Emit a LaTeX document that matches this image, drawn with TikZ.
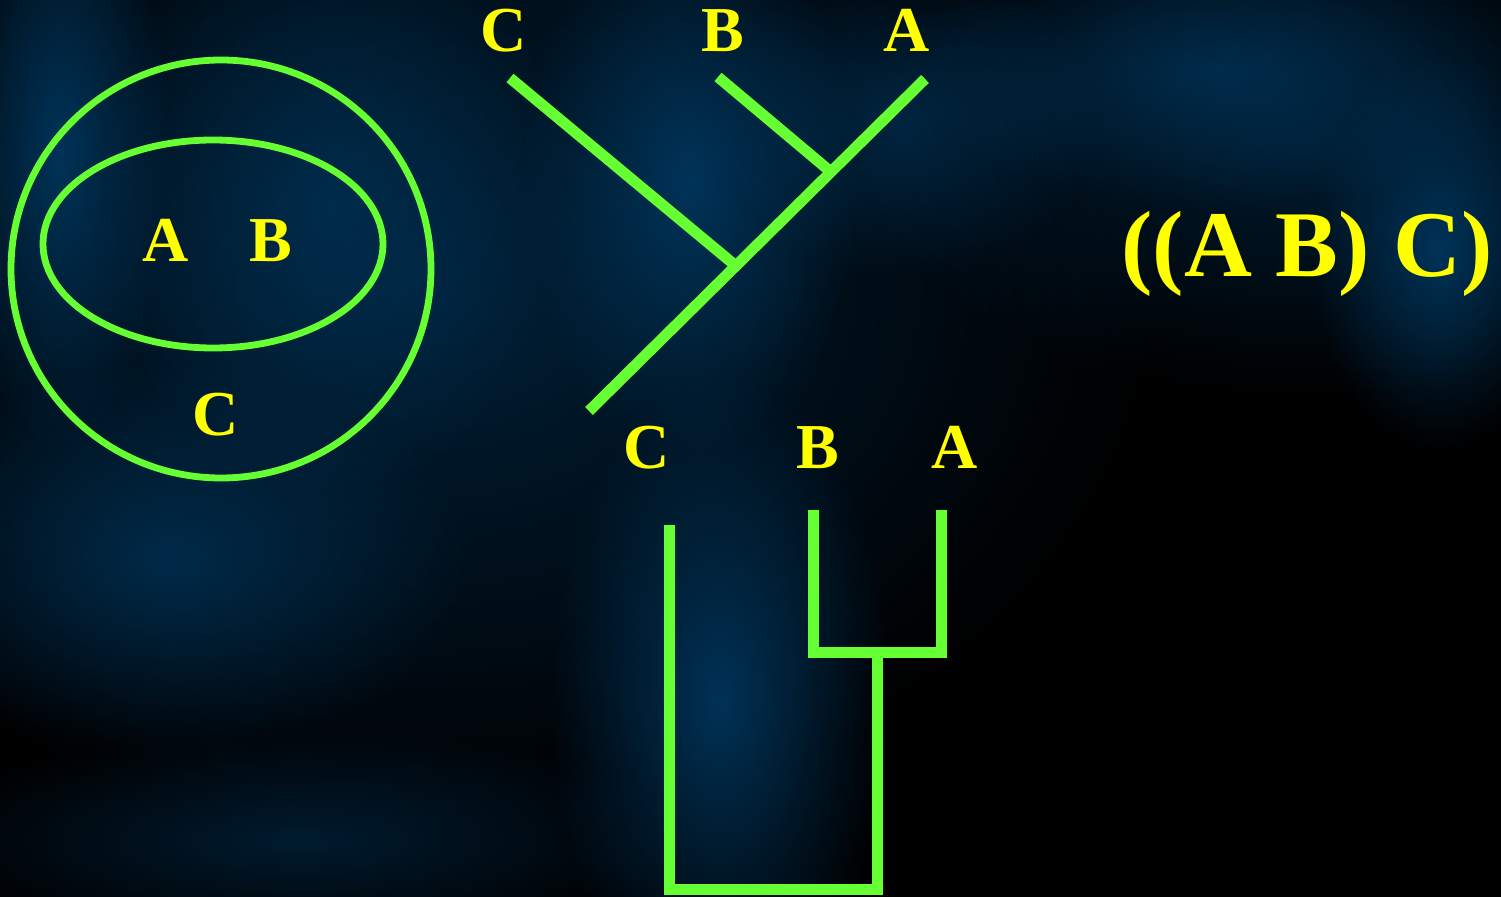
\documentclass[tikz,border=0pt]{standalone}
\usepackage{fontspec}
\setmainfont{Liberation Serif}
\usetikzlibrary{fadings}
\tikzfading[name=softedge, inner color=transparent!0, outer color=transparent!100]
\definecolor{lime}{RGB}{102,255,51}
\definecolor{lbl}{RGB}{255,255,0}
\definecolor{navy}{RGB}{0,55,95}
\begin{document}
\begin{tikzpicture}[x=0.5pt,y=-0.5pt,
  lab/.style={text=lbl,font=\bfseries\fontsize{32}{32}\selectfont,inner sep=0pt,anchor=base},
  biglab/.style={text=lbl,font=\bfseries\fontsize{47}{47}\selectfont,inner sep=0pt,anchor=base},
  ring/.style={draw=lime,line width=3.4pt},
  branch/.style={draw=lime,line width=5.5pt,line cap=butt},
  elbow/.style={draw=lime,line width=5.5pt,line cap=butt,line join=miter},
  blob/.style={fill=navy,path fading=softedge}]
\fill[black] (0,0) rectangle (1501,897);
\useasboundingbox (0,0) rectangle (1501,897);
% background blobs
\begin{scope}
\clip (0,0) rectangle (1501,897);
\fill[blob,opacity=0.6] (420,280) ellipse (750 and 560);
\fill[blob,opacity=0.5] (1300,140) ellipse (450 and 260);
\fill[blob,opacity=0.9] (60,150) ellipse (110 and 300);
\fill[blob,opacity=0.7] (170,560) ellipse (300 and 200);
\fill[blob,opacity=0.6] (330,200) ellipse (240 and 300);
\fill[blob,opacity=0.9] (690,180) ellipse (170 and 280);
\fill[blob,opacity=0.9] (720,700) ellipse (170 and 330);
\fill[blob,opacity=0.6] (900,120) ellipse (200 and 160);
\fill[blob,opacity=0.7] (1220,70) ellipse (320 and 140);
\fill[blob,opacity=0.9] (1440,250) ellipse (130 and 200);
\fill[blob,opacity=0.5] (300,840) ellipse (400 and 110);
\end{scope}
% Venn-style nesting
\draw[ring] (221,269) ellipse (210 and 209);
\draw[ring] (213,244) ellipse (170 and 104);
\node[lab] (vA) at (166,262) {A};
\node[lab] (vB) at (271,262) {B};
\node[lab] (vC) at (216,436) {C};
% diagonal tree
\node[lab] (tC) at (504,52) {C};
\node[lab] (tB) at (723,52) {B};
\node[lab] (tA) at (907,52) {A};
\coordinate (lC) at (510,78);
\coordinate (lB) at (718,77);
\coordinate (lA) at (925,79);
\coordinate (root) at (589,411);
\coordinate (jCAB) at (736,266);
\coordinate (jAB) at (831,172);
\draw[branch] (root) -- (lA);
\draw[branch] (lC) -- (jCAB);
\draw[branch] (lB) -- (jAB);
% rectangular tree
\node[lab] (bC) at (647,469) {C};
\node[lab] (bB) at (818,469) {B};
\node[lab] (bA) at (955,469) {A};
\coordinate (rC) at (669,525);
\coordinate (rB) at (813,510);
\coordinate (rA) at (941,510);
\coordinate (barL) at (813,653);
\coordinate (barR) at (941,653);
\coordinate (stemT) at (877,653);
\coordinate (baseL) at (669,890);
\coordinate (baseR) at (877,890);
\draw[elbow] (rB) -- (barL) -- (barR) -- (rA);
\draw[elbow] (rC) -- (baseL) -- (baseR) -- (stemT);
% parenthetical notation
\node[biglab] (paren) at (1307,277) {((A B) C)};
\end{tikzpicture}
\end{document}
